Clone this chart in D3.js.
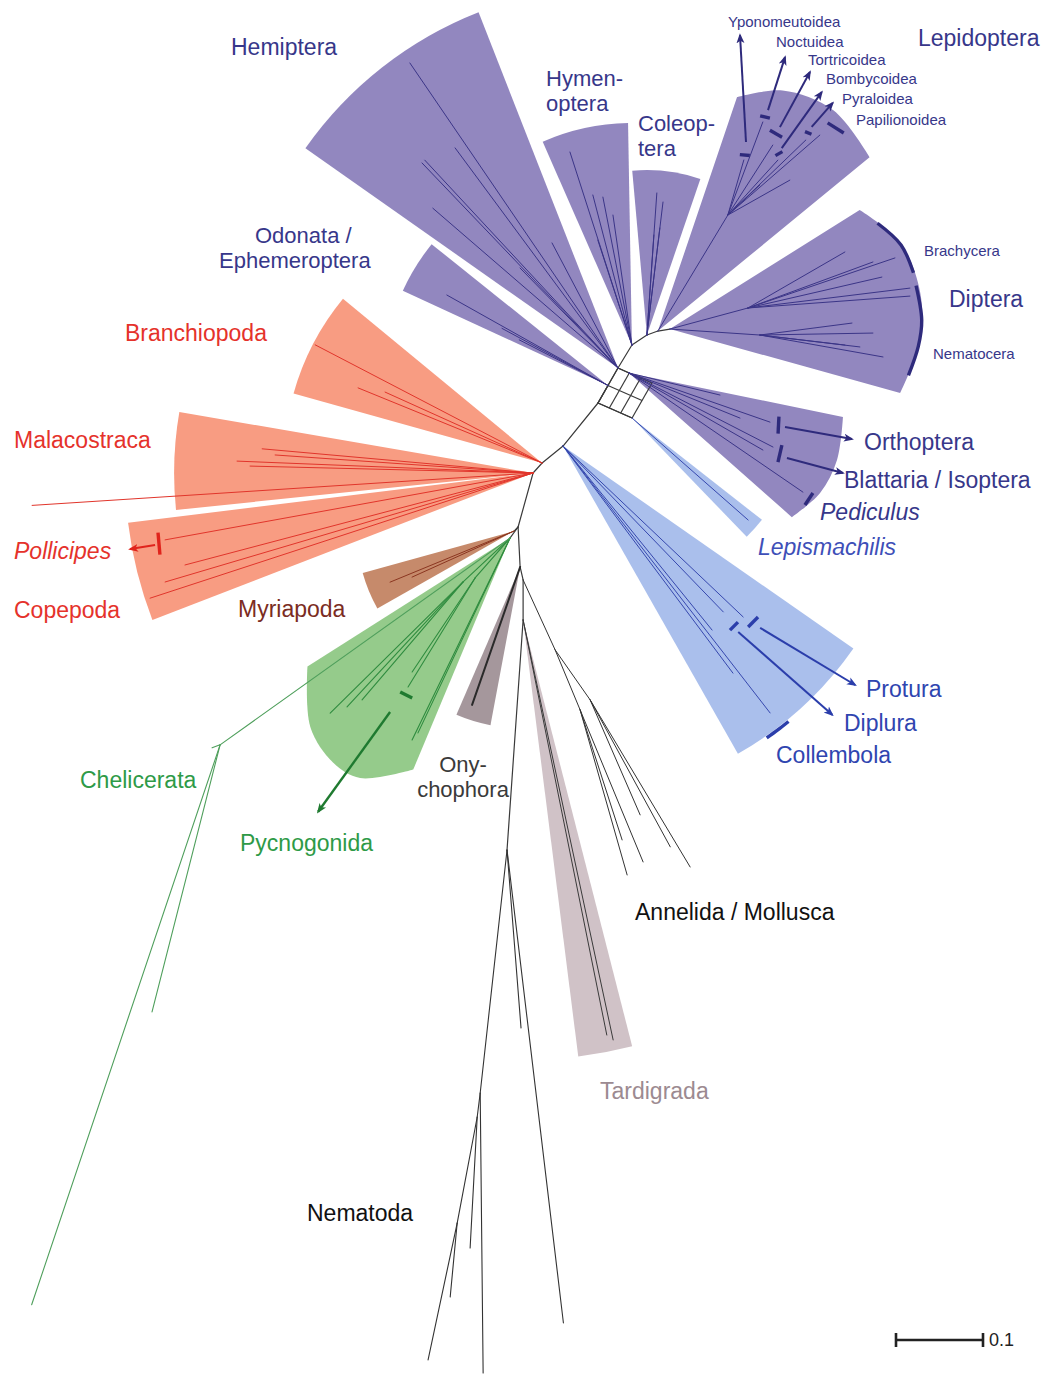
<!DOCTYPE html>
<html><head><meta charset="utf-8">
<script src="https://cdn.jsdelivr.net/npm/d3@7"></script>
<style>
body{margin:0;background:#fff}
svg{display:block}
text{font-family:"Liberation Sans",Arial,sans-serif}
</style>
</head><body>
<svg id="chart" width="1044" height="1374"></svg>
<script>
// ================= DATA =================
// Branches of the unrooted tree: [node, parent, direction (deg), length (substitutions/site), group]
const backbone = [
  ["P1","root",299.7,0.0463,"back"],
  ["P3","root",23.8,0.0428,"back"],
  ["OD","root",299.7,0.0232,"back"],
  ["OR","P1",24.4,0.0139,"back"],
  ["S1","P1",301.3,0.0309,"back"],
  ["S2","S1",326.3,0.0207,"back"],
  ["S3","S2",340,0.0134,"back"],
  ["S4","S3",350.5,0.0140,"back"],
  ["N1","root",129.1,0.0637,"back"],
  ["N2","N1",141,0.0310,"back"],
  ["N2b","N2",132,0.0155,"back"],
  ["N3","N2b",105.5,0.0644,"back"],
  ["N4","N3",87.1,0.0460,"back"],
  ["N5","N4",77,0.0153,"back"],
  ["N6","N5",90,0.0460,"back"],
  ["N7","N6",94,0.2651,"back"],
  ["M","N3",135,0.0066,"back"],
  ["G","N3",126,0.0156,"back"]
];
const insectBranches = [
  // Hemiptera
  ["h1","P1",235.7,0.4244],["h2","P1",233.5,0.3147],["h3","P1",226.3,0.3260],
  ["h3b","P1",227.1,0.3262],["h4","P1",220.8,0.2811],["h5","P1",242.2,0.1625],["h6","P1",225.6,0.1609],
  // Hymenoptera
  ["y1","S1",252.2,0.2330],["y2","S1",255.4,0.1782],["y3","S1",258.9,0.1733],["y4","S1",261.7,0.1510],["y5","S1",252,0.1269],
  // Coleoptera
  ["c1","S2",274,0.1637],["c2","S2",276.9,0.1540],["c3","S2",274,0.1152],["c4","S2",276.9,0.1239],
  // Lepidoptera
  ["LN","S3",301.1,0.1557],
  ["L1","LN",286.2,0.0659],["L2","LN",290.6,0.1143],["L3","LN",302.7,0.0956],["L4","LN",312.3,0.0854],
  ["L5","LN",316.1,0.1244],["L6","LN",319,0.1401],["L7","LN",330.6,0.0818],["L8","LN",316.8,0.0505],
  // Diptera
  ["DB","S4",344.9,0.0929],["DN","S4",3.8,0.1037],
  ["d1","DB",330,0.1287],["d2","DB",339.8,0.1531],["d3","DB",341.2,0.1785],["d4","DB",347,0.1580],["d5","DB",353,0.1876],["d6","DB",355.8,0.1867],
  ["d7","DN",352.6,0.1067],["d8","DN",359,0.1299],["d9","DN",6.8,0.1157],["d10","DN",10.1,0.1437],["d11","DN",6.7,0.0984],
  // Orthoptera / Blattaria / Pediculus
  ["o1","OR",19.2,0.1716],["o2","OR",22.1,0.1377],["o3","OR",27.2,0.1861],["o4","OR",29.9,0.1776],["o5","OR",34.4,0.2423],["o6","OR",13.6,0.1076],
  // Odonata / Ephemeroptera
  ["od1","OD",209.3,0.2124],["od2","OD",208.3,0.1384],["od3","OD",207.2,0.1147]
];
const entognathBranches = [
  ["lep","P3",41.3,0.1776],
  ["e1","N1",46,0.2651],["e2","N1",43.5,0.2854],["e3","N1",51,0.2722],["e4","N1",53.2,0.3260],["e5","N1",52.2,0.3883]
];
const crustBranches = [
  ["b1","N2",207.5,0.2940],["b2","N2",202.2,0.2284],["b3","N2",204.3,0.1980],
  ["m1","N2b",185.1,0.3126],["m2","N2b",184,0.2972],["m3","N2b",182.3,0.3405],["m4","N2b",181.4,0.3254],["m5","N2b",176.3,0.5770],
  ["p1","N2b",169.7,0.4299],["p2","N2b",165.2,0.4138],["p3","N2b",163.5,0.4411],["p4","N2b",161.9,0.4631]
];
const myriaBranches = [["my1","M",157.6,0.1541],["my2","M",155.7,0.1286]];
const chelBranches = [
  ["g1","G",136.9,0.0740],["g2","G",131.2,0.0611],
  ["g1a","g1",135.4,0.2146],["g1b","g1",132.9,0.1960],["g1c","g1",130.6,0.1785],
  ["g2a","g2",123.8,0.1301],["g2b","g2",121.6,0.1471],
  ["g3","G",115.9,0.2580],["g4","G",115.3,0.2478]
];
const cheliLongBranches = [
  ["CH","G",144.5,0.4095],["ch1","CH",108.6,0.6790],["ch2","CH",104.3,0.3167],["ch3","CH",159.4,0.0098]
];
const onyBranches = [["on1","N4",109.2,0.1679]];
const annelBranches = [
  ["AN1","N5",65.4,0.0885],["AN2","AN1",67.4,0.0747],["AN3","AN1",55,0.0701],
  ["a1","AN2",72.1,0.1570],["a2","AN2",74.1,0.1972],["a3","AN2",67.5,0.1891],
  ["a4","AN3",66.5,0.1441],["a5","AN3",61.4,0.1924],["a6","AN3",59.1,0.2238]
];
const tardBranches = [["t1","N6",78.6,0.4867],["t2","N6",77.9,0.4937]];
const nemaBranches = [
  ["n0","N7",85.5,0.2052],["nR","N7",83.2,0.5475],["NL1","N7",96.3,0.2810],
  ["n1","NL1",89.4,0.3218],["NL2","NL1",97.1,0.0278],["n2","NL2",93.1,0.1508],
  ["NL3","NL2",100.7,0.1240],["n3","NL3",95.4,0.0854],["n4","NL3",102,0.1609]
];

// Clade wedges: [clade, apex node, outline as [direction (deg), radius (subst./site)], group]
const wedges = [
  ["Hemiptera","P1",[[215.1,0.4391],[248.6,0.4391]],"insect"],
  ["Hymenoptera","S1",[[246.3,0.2552],[269,0.2552]],"insect"],
  ["Coleoptera","S2",[[264.9,0.1897],[288.9,0.1897]],"insect"],
  ["Lepidoptera","S3",[[288.7,0.2839],[297.4,0.3115],[308.4,0.3241],[320.6,0.3149]],"insect"],
  ["Diptera","S4",[[327.9,0.2575],[339.5,0.2828],[351.8,0.2908],[363.2,0.2874],[375.5,0.2747]],"insect"],
  ["Orthoptera","OR",[[11.6,0.2511],[22.7,0.2592],[32.1,0.2593],[41.5,0.2500]],"insect"],
  ["Odonata","OD",[[204.8,0.2598],[218.7,0.2598]],"insect"],
  ["Lepismachilis","P3",[[38.1,0.1897],[46,0.1897]],"ento"],
  ["Entognatha","N1",[[34.9,0.4069],[60.4,0.4069]],"ento"],
  ["Branchiopoda","N2",[[195.6,0.2966],[219.5,0.2966]],"crust"],
  ["Malacostraca","N2b",[[174.1,0.4126],[189.8,0.4126]],"crust"],
  ["Copepoda","N2b",[[158.9,0.4690],[173,0.4690]],"crust"],
  ["Myriapoda","M",[[150.5,0.1805],[164.5,0.1805]],"myria"],
  ["Chelicerata","G",[[147.6,0.2759],[136.6,0.3161],[128.2,0.3287],[122,0.3253],[112.7,0.2885]],"chel"],
  ["Onychophora","N4",[[100.6,0.1851],[113.3,0.1851]],"ony"],
  ["Tardigrada","N6",[[75.65,0.5057],[82.8,0.5057]],"tard"]
];

// Subgroup bars: [node, direction, radius, orientation, length, group]
const bars = [
  ["S3",296.3,0.2256,5,0.0115,"insectDark"],
  ["S3",296.6,0.2751,13,0.0115,"insectDark"],
  ["S3",300.9,0.2644,30,0.0161,"insectDark"],
  ["S3",304.3,0.2469,330,0.0092,"insectDark"],
  ["S3",307.2,0.2859,22,0.0080,"insectDark"],
  ["S3",311.2,0.3103,32,0.0218,"insectDark"],
  ["OR",19.2,0.1820,93,0.0195,"insectDark"],
  ["OR",28.1,0.1967,103,0.0201,"insectDark"],
  ["OR",35,0.2525,303.7,0.0166,"insectDark"],
  ["N1",42.8,0.2977,315,0.0161,"entoDark"],
  ["N1",46.5,0.2854,315,0.0130,"entoDark"],
  ["N2b",169.3,0.4376,85,0.0253,"crustDark"],
  ["G",123.5,0.2164,26.6,0.0154,"chelDark"]
];
// Subgroup arcs along the wedge rim: [node, [direction, radius] points, group]
const arcBars = [
  ["S4",[[333,0.2690],[340,0.2839],[347,0.2885]],"insectDark"],
  ["S4",[[350,0.2885],[358,0.2908],[364,0.2874],[371,0.2805]],"insectDark"],
  ["N1",[[50.7,0.4103],[52.9,0.4103],[55.1,0.4103]],"entoDark"]
];
// Pointer arrows: [node, direction, radius, arrow direction, arrow length, group]
const arrows = [
  ["S3",295,0.2397,266.8,0.1230,"insectDark"],
  ["S3",296.5,0.2838,287.8,0.0640,"insectDark"],
  ["S3",300.9,0.2732,298.6,0.0721,"insectDark"],
  ["S3",304.1,0.2540,305.5,0.0791,"insectDark"],
  ["S3",307,0.2938,311.2,0.0367,"insectDark"],
  ["OR",19.1,0.1898,10.2,0.0782,"insectDark"],
  ["OR",28.3,0.2062,15,0.0667,"insectDark"],
  ["N1",42.7,0.3083,31,0.1274,"entoDark"],
  ["N1",46.7,0.2936,41.4,0.1441,"entoDark"],
  ["N2b",169.2,0.4423,170.9,0.0291,"crustDark"],
  ["G",124.6,0.2430,125.8,0.1414,"chelDark"]
];
const networkSplits = [2, 3];   // reticulation among insect orders (rows, columns)

// Label texts (lines split by "|") with their colour group
const labelTexts = [
  ["Hemiptera","insectLbl"],["Hymen-|optera","insectLbl"],["Coleop-|tera","insectLbl"],
  ["Lepidoptera","insectLbl"],["Yponomeutoidea","insectLbl"],["Noctuidea","insectLbl"],["Tortricoidea","insectLbl"],
  ["Bombycoidea","insectLbl"],["Pyraloidea","insectLbl"],["Papilionoidea","insectLbl"],
  ["Odonata /|Ephemeroptera","insectLbl"],["Brachycera","insectLbl"],["Diptera","insectLbl"],["Nematocera","insectLbl"],
  ["Orthoptera","insectLbl"],["Blattaria / Isoptera","insectLbl"],["Pediculus","insectLbl"],
  ["Lepismachilis","lepisLbl"],["Protura","entoLbl"],["Diplura","entoLbl"],["Collembola","entoLbl"],
  ["Branchiopoda","crustLbl"],["Malacostraca","crustLbl"],["Pollicipes","crustLbl"],["Copepoda","crustLbl"],
  ["Myriapoda","myriaLbl"],["Chelicerata","chelLbl"],["Pycnogonida","chelLbl"],
  ["Ony-|chophora","onyLbl"],["Annelida / Mollusca","blackLbl"],["Tardigrada","tardLbl"],["Nematoda","blackLbl"]
];
const scaleBarValue = 0.1;

// ================= LAYOUT & STYLE =================
const rootPx = [598, 403];
// [x, baseline y, font size, style, anchor, line step, per-line x offsets]
const labelLayout = {
  "Hemiptera":[231,55,23],"Hymen-|optera":[546,86,22,"normal","start",25],"Coleop-|tera":[638,131,22,"normal","start",25],
  "Lepidoptera":[918,46,23],"Yponomeutoidea":[728,27,15],"Noctuidea":[776,47,15],"Tortricoidea":[808,65,15],
  "Bombycoidea":[826,84,15],"Pyraloidea":[842,104,15],"Papilionoidea":[856,125,15],
  "Odonata /|Ephemeroptera":[255,243,22,"normal","start",25,[0,-36]],
  "Brachycera":[924,256,15],"Diptera":[949,307,23],"Nematocera":[933,359,15],
  "Orthoptera":[864,450,23],"Blattaria / Isoptera":[844,488,23],"Pediculus":[820,520,23,"italic"],
  "Lepismachilis":[758,555,23,"italic"],"Protura":[866,697,23],"Diplura":[844,731,23],"Collembola":[776,763,23],
  "Branchiopoda":[125,341,23],"Malacostraca":[14,448,23],"Pollicipes":[14,559,23,"italic"],"Copepoda":[14,618,23],
  "Myriapoda":[238,617,23],"Chelicerata":[80,788,23],"Pycnogonida":[240,851,23],
  "Ony-|chophora":[463,772,22,"normal","middle",25],
  "Annelida / Mollusca":[635,920,23],"Tardigrada":[600,1099,23],"Nematoda":[307,1221,23]
};
const palette = {
  back:"#3a3a3a", insect:"#9287bf", insectLine:"#3b3587", insectDark:"#2e2a7c", insectLbl:"#37378a",
  ento:"#aabfec", entoLine:"#3648ae", entoDark:"#2b3eab", entoLbl:"#2f45b0", lepisLbl:"#3e4fb8",
  crust:"#f89c82", crustLine:"#e1352b", crustDark:"#e0241c", crustLbl:"#e5322b",
  myria:"#c68a6b", myriaLine:"#8b3620", myriaLbl:"#7b2c22",
  chel:"#95cb8b", chelLine:"#2f8c3f", chelDark:"#1f7a30", chelLbl:"#2e9a47", chelThin:"#4f9f5c",
  ony:"#a5979c", onyLine:"#2a2a2a", onyLbl:"#3a3a3a",
  tard:"#d0c2c7", tardLine:"#3a3a3a", tardLbl:"#9c8a91",
  annelLine:"#333", nemaLine:"#333", blackLbl:"#111"
};

// ================= DRAW =================
const svg = d3.select("#chart");
const len = d3.scaleLinear().domain([0, 0.1]).range([0, 87]);   // 0.1 substitutions/site = 87 px
const rad = d => d * Math.PI / 180;
const polar = (p, a, r) => [p[0] + len(r) * Math.cos(rad(a)), p[1] + len(r) * Math.sin(rad(a))];

const pos = {root: rootPx};
const edgeSets = [
  [backbone, "back", 1.2], [insectBranches, "insectLine", 1], [entognathBranches, "entoLine", 1],
  [crustBranches, "crustLine", 1], [myriaBranches, "myriaLine", 1], [chelBranches, "chelLine", 1.1],
  [cheliLongBranches, "chelThin", 1.1], [onyBranches, "onyLine", 2], [annelBranches, "annelLine", 1],
  [tardBranches, "tardLine", 1], [nemaBranches, "nemaLine", 1.1]
];
const edges = [];
edgeSets.forEach(([set, col, w]) => set.forEach(b => {
  pos[b[0]] = polar(pos[b[1]], b[2], b[3]);
  edges.push({from: pos[b[1]], to: pos[b[0]], col: palette[col], w});
}));

// wedges
const arcGen = d3.arc();
const radial = d3.lineRadial().angle(d => rad(d[0] + 90)).radius(d => len(d[1])).curve(d3.curveCatmullRom.alpha(0.5));
function wedgePath(profile) {
  if (profile.length === 2) {
    return arcGen({innerRadius: 0, outerRadius: len(profile[0][1]),
      startAngle: rad(profile[0][0] + 90), endAngle: rad(profile[1][0] + 90)});
  }
  return "M0,0L" + radial(profile).slice(1) + "Z";
}
svg.append("g").selectAll("path").data(wedges).join("path")
  .attr("transform", d => `translate(${pos[d[1]][0]},${pos[d[1]][1]})`)
  .attr("d", d => wedgePath(d[2]))
  .attr("fill", d => palette[d[3]]);

// reticulate network box
const P0 = pos.root, u = [pos.P1[0] - P0[0], pos.P1[1] - P0[1]], v = [pos.P3[0] - P0[0], pos.P3[1] - P0[1]];
const netLines = [];
d3.range(networkSplits[0] + 1).forEach(i => {
  const s = i / networkSplits[0];
  const a = [P0[0] + s * u[0], P0[1] + s * u[1]];
  netLines.push([a, [a[0] + v[0], a[1] + v[1]]]);
});
d3.range(networkSplits[1] + 1).forEach(j => {
  const t = j / networkSplits[1];
  const a = [P0[0] + t * v[0], P0[1] + t * v[1]];
  netLines.push([a, [a[0] + u[0], a[1] + u[1]]]);
});
svg.append("g").selectAll("line").data(netLines).join("line")
  .attr("x1", d => d[0][0]).attr("y1", d => d[0][1]).attr("x2", d => d[1][0]).attr("y2", d => d[1][1])
  .attr("stroke", palette.back).attr("stroke-width", 1.2);

// branches
svg.append("g").attr("stroke-linecap", "round").selectAll("line").data(edges).join("line")
  .attr("x1", d => d.from[0]).attr("y1", d => d.from[1]).attr("x2", d => d.to[0]).attr("y2", d => d.to[1])
  .attr("stroke", d => d.col).attr("stroke-width", d => d.w);

// bars
svg.append("g").selectAll("line").data(bars).join("line")
  .each(function(d) {
    const c = polar(pos[d[0]], d[1], d[2]);
    const p1 = polar(c, d[3], d[4] / 2), p2 = polar(c, d[3] + 180, d[4] / 2);
    d3.select(this).attr("x1", p1[0]).attr("y1", p1[1]).attr("x2", p2[0]).attr("y2", p2[1]);
  })
  .attr("stroke", d => palette[d[5]]).attr("stroke-width", 3.4);

// rim arcs
const rimLine = d3.lineRadial().angle(d => rad(d[0] + 90)).radius(d => len(d[1]) - 1).curve(d3.curveCatmullRom.alpha(0.5));
svg.append("g").selectAll("path").data(arcBars).join("path")
  .attr("transform", d => `translate(${pos[d[0]][0]},${pos[d[0]][1]})`)
  .attr("d", d => rimLine(d[1])).attr("fill", "none")
  .attr("stroke", d => palette[d[2]]).attr("stroke-width", 3.4);

// arrow markers
const defs = svg.append("defs");
["insectDark", "entoDark", "crustDark", "chelDark"].forEach(g => {
  defs.append("marker").attr("id", "ah-" + g).attr("viewBox", "0 0 10 10")
    .attr("refX", 8).attr("refY", 5).attr("markerWidth", 10).attr("markerHeight", 10)
    .attr("markerUnits", "userSpaceOnUse").attr("orient", "auto")
    .append("path").attr("d", "M0,1L10,5L0,9L2.5,5Z").attr("fill", palette[g]);
});
svg.append("g").selectAll("line").data(arrows).join("line")
  .each(function(d) {
    const s = polar(pos[d[0]], d[1], d[2]);
    const e = polar(s, d[3], d[4]);
    d3.select(this).attr("x1", s[0]).attr("y1", s[1]).attr("x2", e[0]).attr("y2", e[1]);
  })
  .attr("stroke", d => palette[d[5]]).attr("stroke-width", d => d[5] === "chelDark" ? 2.4 : 2)
  .attr("marker-end", d => `url(#ah-${d[5]})`);

// labels
svg.append("g").selectAll("text").data(labelTexts).join("text")
  .attr("y", d => labelLayout[d[0]][1])
  .attr("font-size", d => labelLayout[d[0]][2])
  .attr("font-style", d => labelLayout[d[0]][3] || "normal")
  .attr("text-anchor", d => labelLayout[d[0]][4] || "start")
  .attr("fill", d => palette[d[1]])
  .each(function(d) {
    const L = labelLayout[d[0]];
    const lines = d[0].split("|");
    const offs = L[6] || lines.map(() => 0);
    d3.select(this).selectAll("tspan").data(lines).join("tspan")
      .attr("x", (t, i) => L[0] + offs[i])
      .attr("dy", (t, i) => i === 0 ? 0 : L[5])
      .text(t => t);
  });

// scale bar
const sb = svg.append("g").attr("transform", "translate(896,1340)").attr("stroke", "#222").attr("stroke-width", 2.6);
sb.append("line").attr("x1", 0).attr("x2", len(scaleBarValue)).attr("y1", 0).attr("y2", 0);
sb.append("line").attr("x1", 0).attr("x2", 0).attr("y1", -7).attr("y2", 7);
sb.append("line").attr("x1", len(scaleBarValue)).attr("x2", len(scaleBarValue)).attr("y1", -7).attr("y2", 7);
svg.append("text").attr("x", 896 + len(scaleBarValue) + 6).attr("y", 1346)
  .attr("font-size", 18).attr("fill", "#222").text(String(scaleBarValue));
</script>
</body></html>
